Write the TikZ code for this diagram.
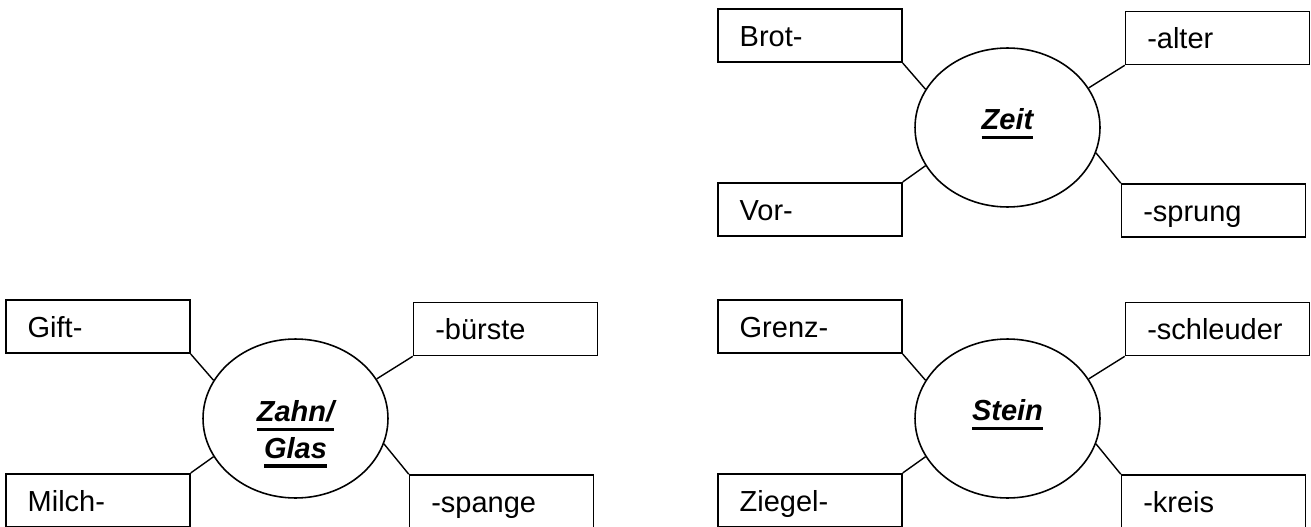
\documentclass[tikz,border=0pt]{standalone}
\usepackage{fontspec}
\setmainfont{Liberation Sans}
\usetikzlibrary{shapes.geometric, positioning}

\newsavebox{\hubbox}
\newcommand{\hubword}[1]{\sbox{\hubbox}{#1}\rlap{\rule[-5.1pt]{\wd\hubbox}{1.9pt}}\usebox{\hubbox}}

\begin{document}
\begin{tikzpicture}[
        x=0.02cm, y=-0.02cm,
        wordbox/.style={rectangle, draw=black, line width=0.9pt, minimum width=3.68cm, minimum height=1.06cm, inner xsep=0.434cm, inner ysep=0pt, text width=2.812cm, align=left, text height=12.4pt, text depth=0pt, font=\fontsize{16.5}{21}\selectfont},
        hub/.style={ellipse, draw=black, line width=0.9pt, minimum width=3.7cm, minimum height=3.18cm, inner sep=0pt, align=center, text height=8pt, text depth=5.2pt, font=\fontsize{16.5}{21}\selectfont\bfseries\itshape},
        link/.style={line width=0.8pt}
    ]

        \useasboundingbox (0,0) rectangle (1311,527);

        % Cluster 1: Zeit (top right)
        \node (zeit) [hub] at (1007.5,127.5) {\hubword{Zeit}};
        \node (brot) [wordbox, left=0.23cm of zeit, yshift=1.835cm] {Brot-};
        \node (vor) [wordbox, left=0.23cm of zeit, yshift=-1.635cm] {Vor-};
        \node (alter) [wordbox, right=0.48cm of zeit, yshift=1.79cm] {-alter};
        \node (sprung) [wordbox, right=0.4cm of zeit, yshift=-1.66cm] {-sprung};

        % Cluster 2: Zahn/Glas (bottom left)
        \node (zahn) [hub, text height=46pt, text depth=0.1pt] at (295.5,418.5) {\hubword{Zahn/}\\\hubword{Glas}};
        \node (gift) [wordbox, left=0.23cm of zahn, yshift=1.835cm] {Gift-};
        \node (milch) [wordbox, left=0.23cm of zahn, yshift=-1.635cm] {Milch-};
        \node (buerste) [wordbox, right=0.48cm of zahn, yshift=1.79cm] {-bürste};
        \node (spange) [wordbox, right=0.4cm of zahn, yshift=-1.66cm] {-spange};

        % Cluster 3: Stein (bottom right)
        \node (stein) [hub] at (1007.5,418.5) {\hubword{Stein}};
        \node (grenz) [wordbox, left=0.23cm of stein, yshift=1.835cm] {Grenz-};
        \node (ziegel) [wordbox, left=0.23cm of stein, yshift=-1.635cm] {Ziegel-};
        \node (schleuder) [wordbox, right=0.48cm of stein, yshift=1.79cm] {-schleuder};
        \node (kreis) [wordbox, right=0.4cm of stein, yshift=-1.66cm] {-kreis};

        % Connectors
        \draw [link] (brot.south east) -- (zeit.155);
        \draw [link] (alter.south west) -- (zeit.26);
        \draw [link] (vor.north east) -- (zeit.205);
        \draw [link] (sprung.north west) -- (zeit.344);

        \draw [link] (gift.south east) -- (zahn.155);
        \draw [link] (buerste.south west) -- (zahn.26);
        \draw [link] (milch.north east) -- (zahn.205);
        \draw [link] (spange.north west) -- (zahn.344);

        \draw [link] (grenz.south east) -- (stein.155);
        \draw [link] (schleuder.south west) -- (stein.26);
        \draw [link] (ziegel.north east) -- (stein.205);
        \draw [link] (kreis.north west) -- (stein.344);

    \end{tikzpicture}
\end{document}
